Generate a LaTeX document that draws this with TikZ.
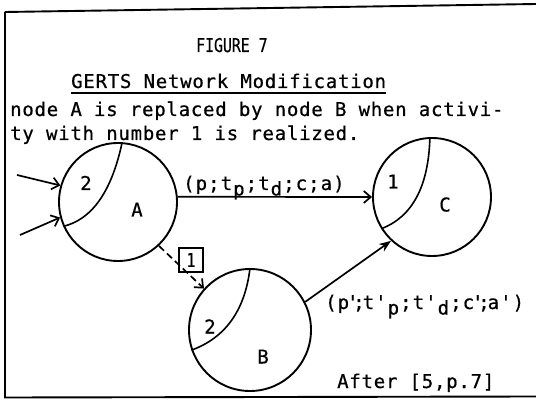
\documentclass[tikz,border=0pt]{standalone}
\usepackage{fontspec}
\usetikzlibrary{arrows.meta,calc}
\newfontfamily\tw[LetterSpace=4,FakeBold=0.6]{DejaVu Sans Mono}
\newfontfamily\twt[FakeStretch=0.78,FakeBold=0.6]{DejaVu Sans Mono}
\newcommand\cell[1]{\makebox[12.5pt][l]{#1}}
\newcommand\sub[1]{\cell{\raisebox{-5.5pt}{#1}}}
\newcommand\pq{\textquotesingle}
\newcommand\pqsemi{\makebox[12.5pt][l]{\makebox[5pt][c]{\pq}\makebox[7.5pt][c]{;}}}
\begin{document}
\begin{tikzpicture}[x=1pt,y=-1pt,
  every node/.style={inner sep=0pt, font={\fontsize{19}{21}\tw}},
  gnode/.style={circle, draw, line width=1.9pt, inner sep=0pt},
  txt/.style={anchor=base west},
  lbl/.style={anchor=base},
  conn/.style={line width=1.7pt},
  arcline/.style={line width=1.6pt},
  barb/.style={-{Straight Barb[length=7pt,width=12pt,line width=1.7pt]}},
  stealthtip/.style={-{Stealth[length=12pt,width=9pt]}},
  framel/.style={line width=1.9pt}]
\useasboundingbox (0,0) rectangle (536,401);
% frame
\draw[framel] (5,12) -- (5,397.5) -- (536,396.5);
\draw[framel] (5,12) -- (536,4);
% texts
\node[txt, font={\fontsize{19}{21}\twt}] (fig) at (196,52) {FIGURE 7};
\node[txt] (gerts) at (71,88) {GERTS Network Modification};
\draw[line width=1.3pt] ($(gerts.base west)+(0,5)$) -- ($(gerts.base east)+(0,5)$);
\node[txt] (l1) at (10,116) {node A is replaced by node B when activi-};
\node[txt] (l2) at (10,140) {ty with number 1 is realized.};
\node[txt] (after) at (337,388) {After [5,p.7]};
% nodes
\node[gnode, minimum size=118pt] (A) at (118,202) {};
\node[gnode, minimum size=118pt] (C) at (432,197) {};
\node[gnode, minimum size=122pt] (B) at (250,330) {};
% inner arcs
\coordinate (qA) at ($(A)+(-11.5,14)$);
\draw[arcline] (A.86) .. controls ($(A.86)!0.6667!(qA)$) and ($(A.204)!0.6667!(qA)$) .. (A.204);
\coordinate (qC) at ($(C)+(-4,14)$);
\draw[arcline] (C.92) .. controls ($(C.92)!0.6667!(qC)$) and ($(C.212)!0.6667!(qC)$) .. (C.212);
\coordinate (qB) at ($(B)+(-7.5,1.5)$);
\draw[arcline] (B.90) .. controls ($(B.90)!0.6667!(qB)$) and ($(B.199)!0.6667!(qB)$) .. (B.199);
% labels inside nodes
\node[lbl] (a2) at (86,190) {2};
\node[lbl] (aA) at (137,216.5) {A};
\node[lbl] (c1) at (393,188.5) {1};
\node[lbl] (cC) at (445,211.5) {C};
\node[lbl] (b2) at (210,333.5) {2};
\node[lbl] (bB) at (263,363.5) {B};
% incoming arrows to A
\coordinate (in1) at (17,175);
\coordinate (in2) at (20,235);
\draw[conn, barb] (in1) -- (A.164);
\draw[conn, barb] (in2) -- (A.195);
% A -> C
\draw[conn, barb] (A.5) -- (C.west);
\node[txt] (lab1) at (183,190) {\cell{(}\cell{p}\cell{;}\cell{t}\sub{p}\cell{;}\cell{t}\sub{d}\cell{;}\cell{c}\cell{;}\cell{a}\cell{)}};
% A -> B dashed
\draw[conn, barb, dash pattern=on 7pt off 4pt] (A.-47) -- (B.138);
\node[draw, line width=1.4pt, minimum size=24pt, font={\fontsize{19}{21}\twt}] (box1) at (191,260) {1};
% B -> C
\draw[conn, stealthtip] (B.27) -- (C.227);
\node[txt] (lab2) at (325,309) {\cell{(}\cell{p}\pqsemi\cell{t}\cell{\pq}\sub{p}\cell{;}\cell{t}\cell{\pq}\sub{d}\cell{;}\cell{c}\pqsemi\cell{a}\cell{\pq}\cell{)}};
\end{tikzpicture}
\end{document}
